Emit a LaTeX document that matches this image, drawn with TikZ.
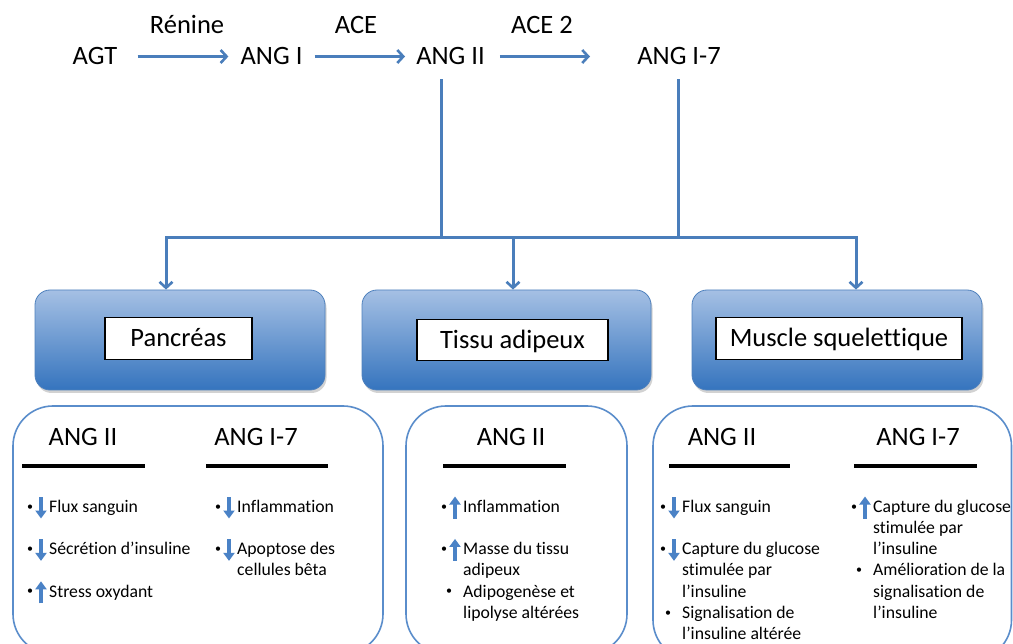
\documentclass[tikz,border=0pt]{standalone}
\usepackage{fontspec}
\setmainfont[Ligatures={NoCommon}]{Carlito}
\usetikzlibrary{arrows.meta,shadows,calc}
\definecolor{cblue}{HTML}{4A7EBB}
\definecolor{iblue}{HTML}{4A82C6}
\definecolor{gtop}{HTML}{A5C0E4}
\definecolor{gbot}{HTML}{3574BE}
\definecolor{gbord}{HTML}{4F81BD}
\definecolor{lbord}{HTML}{5A8DCB}
\newcommand\bigf{\fontsize{26.5}{32}\selectfont}
\newcommand\smallf{\fontsize{17.7}{21.2}\selectfont}
\newcommand\bulf{\fontsize{12}{14}\selectfont}
\tikzset{
  bigtxt/.style={font=\bigf, inner sep=0pt, text height=17pt, text depth=0pt},
  conn/.style={draw=cblue, line width=3pt, -{Straight Barb[length=6pt,width=13pt,line width=2.6pt]}},
  tline/.style={draw=cblue, line width=3pt},
  gbox/.style={draw=gbord, line width=0.8pt, rounded corners=15pt, top color=gtop, bottom color=gbot,
    drop shadow={opacity=0.35, shadow xshift=1.5pt, shadow yshift=-3pt}},
  lframe/.style={draw=black, line width=1.2pt, fill=white, font=\bigf, inner sep=0pt, text height=17pt, text depth=0pt},
  lowbox/.style={draw=lbord, line width=1.6pt, fill=white, rounded corners=40pt},
  hrule/.style={draw=black, line width=3.2pt},
  itemtxt/.style={font=\smallf, inner sep=0pt, anchor=west, text height=11.4pt, text depth=0pt},
  bul/.style={font=\bulf, inner sep=0pt, anchor=base},
  icon/.style={draw=iblue, line width=3.2pt, -{Triangle[length=8pt,width=11pt]}},
}
\newcommand\DnItem[4]{%
  \node[itemtxt] (#1) at (#2,#3) {#4};
  \node[bul] (#1b) at ([xshift=-19pt,yshift=-3.5pt]#1.west) {\textbullet};
  \draw[icon] ([xshift=-8pt,yshift=9.5pt]#1.west) -- ([xshift=-8pt,yshift=-12pt]#1.west);
}
\newcommand\UpItem[4]{%
  \node[itemtxt] (#1) at (#2,#3) {#4};
  \node[bul] (#1b) at ([xshift=-19pt,yshift=-3.5pt]#1.west) {\textbullet};
  \draw[icon] ([xshift=-8pt,yshift=-12pt]#1.west) -- ([xshift=-8pt,yshift=10pt]#1.west);
}
\newcommand\PlItem[4]{%
  \node[itemtxt] (#1) at (#2,#3) {#4};
  \node[bul] (#1b) at ([xshift=-14pt,yshift=-3.5pt]#1.west) {\textbullet};
}
\newcommand\ContLine[4]{%
  \node[itemtxt] (#1) at (#2,#3) {#4};
}
\begin{document}
\begin{tikzpicture}[x=1pt,y=-1pt]
\useasboundingbox (0,0) rectangle (1013,644);
\fill[white] (0,0) rectangle (1013,644);

% top row
\node[bigtxt] (agt) at (95,56.5) {AGT};
\node[bigtxt] (ang1) at (271.5,56.5) {ANG I};
\node[bigtxt] (ang2) at (450.5,56.5) {ANG II};
\node[bigtxt] (ang17) at (679,56.5) {ANG I-7};
\node[bigtxt] (renine) at (187,25.5) {Rénine};
\node[bigtxt] (ace) at (356,25.5) {ACE};
\node[bigtxt] (ace2) at (542,25.5) {ACE 2};
\coordinate (ace2end) at (590,56.5);

\draw[conn, shorten <=20pt, shorten >=12pt] (agt.east) -- (ang1.west);
\draw[conn, shorten <=12pt, shorten >=11pt] (ang1.east) -- (ang2.west);
\draw[conn, shorten <=15pt] (ang2.east) -- (ace2end);

% tree
\coordinate (j2) at (441,238);
\coordinate (j7) at (678,238);
\coordinate (hL) at (166,238);
\coordinate (hM) at (513,238);
\coordinate (hR) at (856,238);
\draw[tline] ([xshift=-9.5pt,yshift=-14pt]ang2.south) -- (j2);
\draw[tline] ([xshift=-1pt,yshift=-14pt]ang17.south) -- (j7);
\draw[tline, line cap=rect] (hL) -- (hR);

% gradient boxes
\node[gbox, minimum width=290pt, minimum height=100pt] (pan) at (180,340) {};
\node[gbox, minimum width=289pt, minimum height=100pt] (adi) at (506.5,340) {};
\node[gbox, minimum width=290pt, minimum height=100pt] (mus) at (837,340) {};

\draw[conn] (hL) -- (pan.north -| hL);
\draw[conn] (hM) -- (adi.north -| hM);
\draw[conn] (hR) -- (mus.north -| hR);

\node[lframe, minimum width=147pt, minimum height=42pt] (panl) at (178.5,338.5) {Pancréas};
\node[lframe, minimum width=191pt, minimum height=41pt] (adil) at (512.5,340) {Tissu adipeux};
\node[lframe, minimum width=246pt, minimum height=42pt] (musl) at (839,338.5) {Muscle squelettique};

% lower boxes
\draw[lowbox] (13,406) rectangle (383,654);
\draw[lowbox] (406,406) rectangle (627,654);
\draw[lowbox] (653,406) rectangle (1011.5,660);

% headers
\node[bigtxt] (h1) at (83,437) {ANG II};
\node[bigtxt] (h2) at (256,437) {ANG I-7};
\node[bigtxt] (h3) at (511,437) {ANG II};
\node[bigtxt] (h4) at (722,437) {ANG II};
\node[bigtxt] (h5) at (918,437) {ANG I-7};
\draw[hrule] (22,466) -- (145,466);
\draw[hrule] (206,466) -- (328,466);
\draw[hrule] (443,466) -- (566,466);
\draw[hrule] (669,466) -- (790,466);
\draw[hrule] (854,466) -- (977,466);

% Pancreas items
\DnItem{p1}{49}{506.5}{Flux sanguin}
\DnItem{p2}{49}{548.9}{Sécrétion d’insuline}
\UpItem{p3}{49}{591.3}{Stress oxydant}
\DnItem{p4}{237}{506.5}{Inflammation}
\DnItem{p5}{237}{548.9}{Apoptose des}
\ContLine{p5b}{237}{570.1}{cellules bêta}

% Tissu adipeux items
\UpItem{a1}{463}{506.5}{Inflammation}
\UpItem{a2}{463}{548.9}{Masse du tissu}
\ContLine{a2b}{463}{570.1}{adipeux}
\PlItem{a3}{463}{591.3}{Adipogenèse et}
\ContLine{a3b}{463}{612.5}{lipolyse altérées}

% Muscle items
\DnItem{m1}{682}{506.5}{Flux sanguin}
\DnItem{m2}{682}{548.9}{Capture du glucose}
\ContLine{m2b}{682}{570.1}{stimulée par}
\ContLine{m2c}{682}{591.3}{l’insuline}
\PlItem{m3}{682}{612.5}{Signalisation de}
\ContLine{m3b}{682}{633.7}{l’insuline altérée}
\UpItem{m4}{873}{506.5}{Capture du glucose}
\ContLine{m4b}{873}{527.7}{stimulée par}
\ContLine{m4c}{873}{548.9}{l’insuline}
\PlItem{m5}{873}{570.1}{Amélioration de la}
\ContLine{m5b}{873}{591.3}{signalisation de}
\ContLine{m5c}{873}{612.5}{l’insuline}
\end{tikzpicture}
\end{document}
